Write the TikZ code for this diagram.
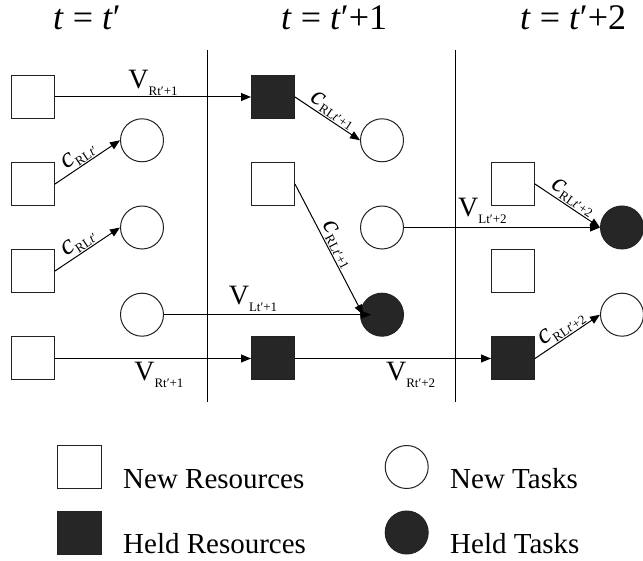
\documentclass[tikz,border=0pt]{standalone}
\usepackage{fontspec}
\setmainfont{Liberation Serif}
\usetikzlibrary{arrows.meta}
\definecolor{heldgray}{HTML}{262626}
\definecolor{edgegray}{HTML}{222222}
\newcommand{\Vlab}[1]{{\fontsize{28}{30}\selectfont V}\raisebox{-7pt}{\fontsize{13}{14}\selectfont #1}}
\newcommand{\Clab}[1]{{\fontsize{28}{30}\selectfont\itshape c}\raisebox{-4pt}{\fontsize{13}{14}\selectfont RL\textit{t}′#1}}
\tikzset{
  res/.style={draw=edgegray, line width=1pt, rectangle, minimum width=43pt, minimum height=43pt, inner sep=0pt, fill=white},
  heldres/.style={res, fill=heldgray},
  task/.style={draw=edgegray, line width=1pt, circle, minimum size=43pt, inner sep=0pt, fill=white},
  heldtask/.style={task, fill=heldgray},
  arr/.style={-{Triangle[length=10pt,width=8pt]}, line width=1pt},
  lab/.style={inner sep=1pt},
  title/.style={anchor=base west, inner sep=0pt, font=\fontsize{36}{40}\selectfont},
  legtext/.style={anchor=base west, inner sep=0pt, font=\fontsize{29}{32}\selectfont},
  sep/.style={line width=1pt}
}
\begin{document}
\begin{tikzpicture}[x=1pt, y=-1pt]
\useasboundingbox (0,0) rectangle (643,561);

% titles
\node[title] (t1) at (53,30) {\textit{t} = \textit{t}′};
\node[title] (t2) at (281,30) {\textit{t} = \textit{t}′+1};
\node[title] (t3) at (520,30) {\textit{t} = \textit{t}′+2};

% separators
\coordinate (s1a) at (207.5,50); \coordinate (s1b) at (207.5,402);
\coordinate (s2a) at (455,50); \coordinate (s2b) at (455,402);
\draw[sep] (s1a) -- (s1b);
\draw[sep] (s2a) -- (s2b);

% column 1
\node[res] (r1) at (33,97) {};
\node[res] (r2) at (33,184) {};
\node[res] (r3) at (33,271) {};
\node[res] (r4) at (33,358.5) {};
\node[task] (l1) at (142,140.3) {};
\node[task] (l2) at (142,227.5) {};
\node[task] (l3) at (142,314.7) {};

% column 2
\node[heldres] (h1) at (273,97) {};
\node[task] (l4) at (382,140.3) {};
\node[res] (r5) at (273,184) {};
\node[task] (l5) at (382,227.5) {};
\node[heldtask] (hl1) at (382,314.7) {};
\node[heldres] (h2) at (273,358.5) {};

% column 3
\node[res] (r6) at (513,184) {};
\node[heldtask] (hl2) at (622,227.5) {};
\node[res] (r7) at (513,271) {};
\node[heldres] (h3) at (513,358.5) {};
\node[task] (l6) at (622,314.7) {};

% connectors
\draw[arr] (r1.east) -- (h1.west) node[pos=0.5, above, lab] {\Vlab{Rt′+1}};
\draw[arr] (r2.east) -- (l1.west) node[pos=0.45, sloped, above, lab] {\Clab{}};
\draw[arr] (r3.east) -- (l2.west) node[pos=0.45, sloped, above, lab] {\Clab{}};
\draw[arr] (l3.east) -- ([xshift=11pt]hl1.west) node[pos=0.43, above, lab, yshift=2pt] {\Vlab{Lt′+1}};
\draw[arr] (r4.east) -- (h2.west) node[pos=0.53, below, lab, yshift=-2pt] {\Vlab{Rt′+1}};
\draw[arr] (h2.east) -- (h3.west) node[pos=0.59, below, lab, yshift=-2pt] {\Vlab{Rt′+2}};
\draw[arr] (h1.east) -- (l4.west) node[pos=0.5, sloped, above, lab] {\Clab{+1}};
\draw[arr] (r5.east) -- ([xshift=3pt]hl1.west) node[pos=0.5, sloped, above, lab] {\Clab{+1}};
\draw[arr] (l5.east) -- (hl2.west) node[pos=0.4, above, lab, yshift=2pt] {\Vlab{Lt′+2}};
\draw[arr] (r6.east) -- (hl2.west) node[pos=0.5, sloped, above, lab] {\Clab{+2}};
\draw[arr] (h3.east) -- (l6.west) node[pos=0.5, sloped, above, lab] {\Clab{+2}};

% legend
\node[res, minimum width=44pt, minimum height=43pt] (k1) at (79,467) {};
\node[heldres, minimum width=44pt, minimum height=43pt] (k2) at (79,532.5) {};
\node[task] (k3) at (406.7,467) {};
\node[heldtask] (k4) at (406.7,532.5) {};
\node[legtext] (k1t) at (123,488) {New Resources};
\node[legtext] (k2t) at (123,553) {Held Resources};
\node[legtext] (k3t) at (450,488) {New Tasks};
\node[legtext] (k4t) at (450,553) {Held Tasks};
\end{tikzpicture}
\end{document}
